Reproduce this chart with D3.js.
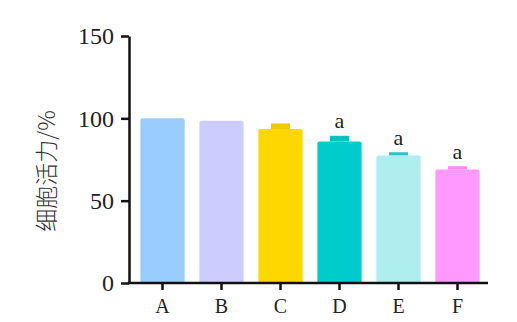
<!DOCTYPE html>
<html>
<head>
<meta charset="utf-8">
<script src="https://cdn.jsdelivr.net/npm/d3@7"></script>
<style>
  body { margin: 0; background: #fff; }
  svg { display: block; }
</style>
</head>
<body>
<div id="chart"></div>
<script>
const groups = ['A', 'B', 'C', 'D', 'E', 'F'];
const values = [100, 98.5, 93.5, 86, 77.5, 69];
const errors = [0, 0, 2.5, 2.5, 1, 1];
const sig_labels = ['', '', '', 'a', 'a', 'a'];
const bar_colors = ['#99ccff', '#ccccff', '#ffd700', '#00cccc', '#afeeee', '#ff99ff'];
const err_colors = ['#99ccff', '#ccccff', '#f2c800', '#00c2c2', '#2cc4c4', '#ff88ff'];
const y_ticks = [0, 50, 100, 150];

const width = 517, height = 322;
const margin = {top: 36, right: 30, bottom: 39, left: 129};
const serif = '"Liberation Serif", "DejaVu Serif", serif';

const svg = d3.select('#chart').append('svg')
  .attr('width', width)
  .attr('height', height);

const y = d3.scaleLinear()
  .domain([0, 150])
  .range([height - margin.bottom, margin.top]);

const x = d3.scaleBand()
  .domain(groups)
  .range([133, 487])
  .paddingInner(0.25)
  .paddingOuter(0.125);

// bars, with slightly rounded tops
const bars = svg.append('g').attr('class', 'bars');
bars.selectAll('path')
  .data(groups)
  .join('path')
  .attr('fill', (d, i) => bar_colors[i])
  .attr('d', (d, i) => {
    const x0 = x(d), x1 = x(d) + x.bandwidth();
    const top = y(values[i]), bot = y(0);
    const r = 2;
    return `M${x0},${bot}V${top + r}Q${x0},${top} ${x0 + r},${top}H${x1 - r}Q${x1},${top} ${x1},${top + r}V${bot}Z`;
  });

// error bars (upper only)
const capW = 19;
const err = svg.append('g').attr('class', 'errors');
err.selectAll('rect')
  .data(groups.filter((d, i) => errors[i] > 0))
  .join('rect')
  .attr('x', d => x(d) + x.bandwidth() / 2 - capW / 2)
  .attr('y', d => { const i = groups.indexOf(d); return y(values[i] + errors[i]) - 1.5; })
  .attr('width', capW)
  .attr('height', d => { const i = groups.indexOf(d); return y(values[i]) - y(values[i] + errors[i]) + 1.5; })
  .attr('fill', d => err_colors[groups.indexOf(d)]);

// significance letters
svg.append('g').selectAll('text')
  .data(groups)
  .join('text')
  .attr('x', d => x(d) + x.bandwidth() / 2)
  .attr('y', (d, i) => y(values[i] + errors[i]) - 9)
  .attr('text-anchor', 'middle')
  .style('font-family', serif)
  .style('font-size', '22px')
  .attr('fill', '#222')
  .text((d, i) => sig_labels[i]);

// y axis
const yAxis = svg.append('g')
  .attr('transform', `translate(${margin.left},0)`)
  .call(d3.axisLeft(y).tickValues(y_ticks).tickSize(8).tickSizeOuter(0).tickPadding(7));
yAxis.select('.domain').attr('stroke', '#111').attr('stroke-width', 2.5);
yAxis.selectAll('.tick line').attr('stroke', '#111').attr('stroke-width', 2.5);
yAxis.selectAll('.tick text')
  .style('font-family', serif)
  .style('font-size', '24px')
  .attr('fill', '#222');

// x axis
const xAxis = svg.append('g')
  .attr('transform', `translate(0,${y(0)})`)
  .call(d3.axisBottom(x).tickSize(7).tickSizeOuter(0).tickPadding(9));
xAxis.select('.domain').remove();
xAxis.append('line')
  .attr('x1', margin.left - 1.25).attr('x2', 488)
  .attr('stroke', '#111').attr('stroke-width', 2.5);
xAxis.selectAll('.tick line').attr('stroke', '#111').attr('stroke-width', 2.5);
xAxis.selectAll('.tick text')
  .style('font-family', serif)
  .style('font-size', '20px')
  .attr('fill', '#222');

// y axis label
svg.append('text')
  .attr('transform', `translate(55,171) rotate(-90)`)
  .attr('text-anchor', 'middle')
  .style('font-family', '"Noto Sans CJK SC", sans-serif')
  .style('font-size', '23px')
  .style('font-weight', 300)
  .attr('fill', '#333')
  .text('细胞活力/%');
</script>
</body>
</html>
